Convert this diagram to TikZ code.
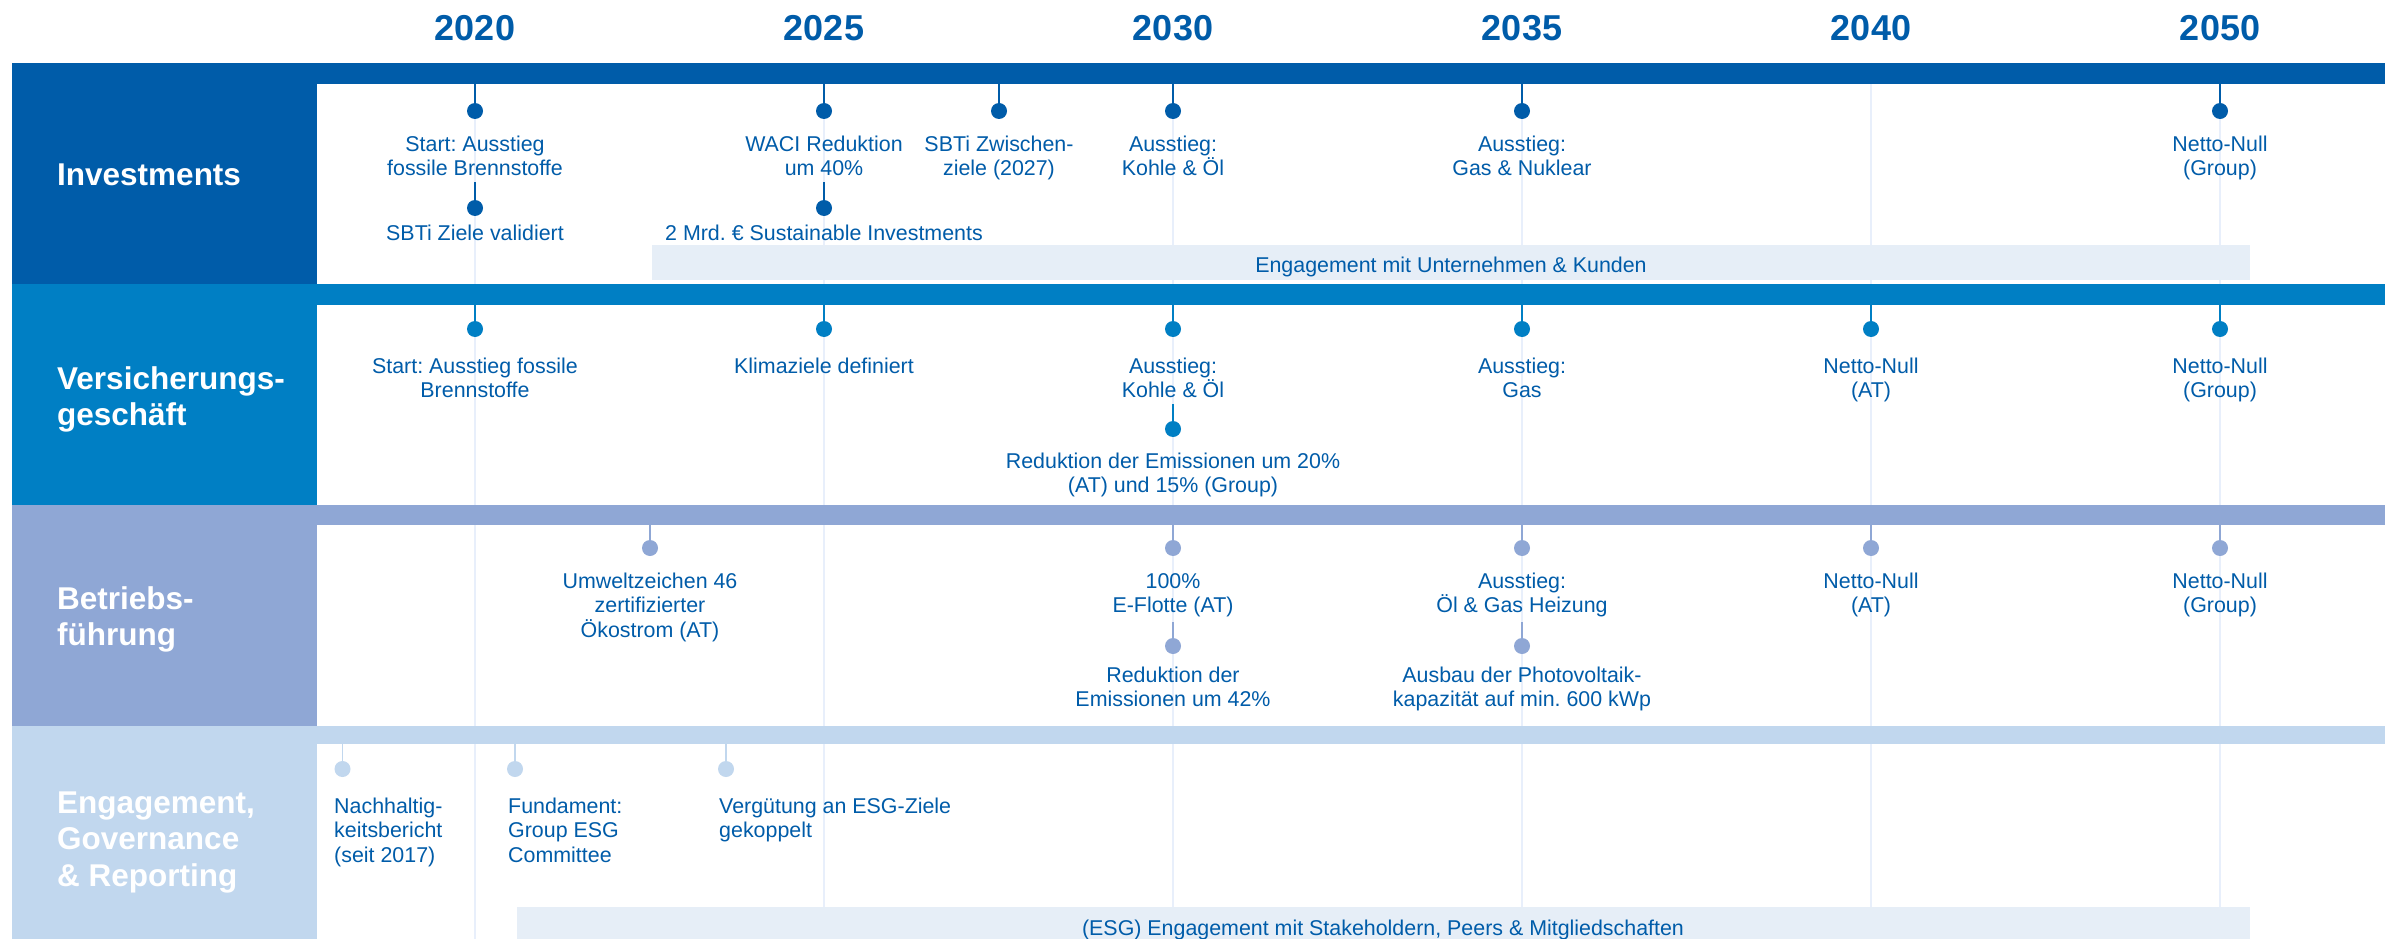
\documentclass[tikz,border=0pt]{standalone}
\usepackage{fontspec}
\setmainfont{Liberation Sans}
\frenchspacing
\definecolor{cA}{RGB}{0,92,169}
\definecolor{cB}{RGB}{0,127,196}
\definecolor{cC}{RGB}{143,167,213}
\definecolor{cD}{RGB}{193,215,238}
\definecolor{cband}{RGB}{230,238,247}
\definecolor{cgrid}{RGB}{232,239,251}
\definecolor{ctext}{RGB}{0,92,169}
\tikzset{
  evt/.style={font=\fontsize{21.4}{24.8}\selectfont, text=ctext, align=center, anchor=base, inner sep=0pt},
  evl/.style={font=\fontsize{21.4}{24.8}\selectfont, text=ctext, align=left, anchor=base west, inner sep=0pt},
  two/.style={yshift=-24.8pt},
  three/.style={yshift=-49.6pt},
  yr/.style={font=\fontsize{36}{40}\selectfont\bfseries, text=cA, anchor=base, inner sep=0pt},
  lab/.style={font=\fontsize{31.5}{36.5}\selectfont\bfseries, text=white, align=left, anchor=base west, inner sep=0pt},
  labtwo/.style={yshift=-36.5pt},
  labthree/.style={yshift=-73pt},
  dotA/.style={circle, fill=cA, minimum size=16pt, inner sep=0pt},
  dotB/.style={circle, fill=cB, minimum size=16pt, inner sep=0pt},
  dotC/.style={circle, fill=cC, minimum size=16pt, inner sep=0pt},
  dotD/.style={circle, fill=cD, minimum size=16pt, inner sep=0pt},
  stemA/.style={draw=cA, line width=1.6pt},
  stemB/.style={draw=cB, line width=1.6pt},
  stemC/.style={draw=cC, line width=1.6pt},
  stemD/.style={draw=cD, line width=1.6pt},
  gridl/.style={draw=cgrid, line width=1.6pt},
  bandtext/.style={font=\fontsize{21.4}{24.8}\selectfont, text=ctext, anchor=base, inner sep=0pt},
}
\begin{document}
\begin{tikzpicture}[x=1pt,y=-1pt]
\useasboundingbox (0,0) rectangle (2385,939);
\fill[white] (0,0) rectangle (2385,939);
% grid lines
\foreach \gx in {475,824,1173,1522,1871,2220} {
  \draw[gridl] (\gx,63) -- (\gx,939);
}
% bands
\fill[cband] (652,245) rectangle (2250,280);
\fill[cband] (517,907) rectangle (2250,939);
\node[bandtext] (band1) at (1451,272) {Engagement mit Unternehmen \& Kunden};
\node[bandtext] (band4) at (1383,935) {(ESG) Engagement mit Stakeholdern, Peers \& Mitgliedschaften};
% row bars and label boxes
\fill[cA] (12,63) rectangle (2385,84);
\fill[cA] (12,63) rectangle (317,284);
\fill[cB] (12,284) rectangle (2385,305);
\fill[cB] (12,284) rectangle (317,505);
\fill[cC] (12,505) rectangle (2385,525);
\fill[cC] (12,505) rectangle (317,726);
\fill[cD] (12,726) rectangle (2385,744);
\fill[cD] (12,726) rectangle (317,939);
% years
\node[yr] (y20) at (475,40.7) {2020};
\node[yr] (y25) at (824,40.7) {2025};
\node[yr] (y30) at (1173,40.7) {2030};
\node[yr] (y35) at (1522,40.7) {2035};
\node[yr] (y40) at (1871,40.7) {2040};
\node[yr] (y50) at (2220,40.7) {2050};
% labels
\node[lab] (l1) at (57,185) {Investments};
\node[lab,labtwo] (l2) at (57,389) {Versicherungs-\\geschäft};
\node[lab,labtwo] (l3) at (57,609) {Betriebs-\\führung};
\node[lab,labthree] (l4) at (57,813) {Engagement,\\Governance\\\& Reporting};
% ---------- Row 1
\foreach \nm/\xx in {a/475,b/824,c/999,d/1173,e/1522,f/2220} {
  \coordinate (r1s\nm) at (\xx,84);
  \node[dotA] (r1d\nm) at (\xx,111) {};
  \draw[stemA] (r1s\nm) -- (r1d\nm);
}
\node[evt,two] (r1ta) at (475,151) {Start: Ausstieg\\fossile Brennstoffe};
\node[evt,two] (r1tb) at (824,151) {WACI Reduktion\\um 40\%};
\node[evt,two] (r1tc) at (999,151) {SBTi Zwischen-\\ziele (2027)};
\node[evt,two] (r1td) at (1173,151) {Ausstieg:\\Kohle \& Öl};
\node[evt,two] (r1te) at (1522,151) {Ausstieg:\\Gas \& Nuklear};
\node[evt,two] (r1tf) at (2220,151) {Netto-Null\\(Group)};
\foreach \nm/\xx in {a/475,b/824} {
  \coordinate (r1u\nm) at (\xx,182);
  \node[dotA] (r1e\nm) at (\xx,208) {};
  \draw[stemA] (r1u\nm) -- (r1e\nm);
}
\node[evt] (r1va) at (475,240) {SBTi Ziele validiert};
\node[evt] (r1vb) at (824,240) {2 Mrd. € Sustainable Investments};
% ---------- Row 2
\foreach \nm/\xx in {a/475,b/824,d/1173,e/1522,g/1871,f/2220} {
  \coordinate (r2s\nm) at (\xx,305);
  \node[dotB] (r2d\nm) at (\xx,329) {};
  \draw[stemB] (r2s\nm) -- (r2d\nm);
}
\node[evt,two] (r2ta) at (475,373) {Start: Ausstieg fossile\\Brennstoffe};
\node[evt] (r2tb) at (824,373) {Klimaziele definiert};
\node[evt,two] (r2td) at (1173,373) {Ausstieg:\\Kohle \& Öl};
\node[evt,two] (r2te) at (1522,373) {Ausstieg:\\Gas};
\node[evt,two] (r2tg) at (1871,373) {Netto-Null\\(AT)};
\node[evt,two] (r2tf) at (2220,373) {Netto-Null\\(Group)};
\coordinate (r2ud) at (1173,404);
\node[dotB] (r2ed) at (1173,429) {};
\draw[stemB] (r2ud) -- (r2ed);
\node[evt,two] (r2vd) at (1173,468) {Reduktion der Emissionen um 20\%\\(AT) und 15\% (Group)};
% ---------- Row 3
\foreach \nm/\xx in {h/650,d/1173,e/1522,g/1871,f/2220} {
  \coordinate (r3s\nm) at (\xx,525);
  \node[dotC] (r3d\nm) at (\xx,548) {};
  \draw[stemC] (r3s\nm) -- (r3d\nm);
}
\node[evt,three] (r3th) at (650,588) {Umweltzeichen 46\\zertifizierter\\Ökostrom (AT)};
\node[evt,two] (r3td) at (1173,588) {100\%\\E-Flotte (AT)};
\node[evt,two] (r3te) at (1522,588) {Ausstieg:\\Öl \& Gas Heizung};
\node[evt,two] (r3tg) at (1871,588) {Netto-Null\\(AT)};
\node[evt,two] (r3tf) at (2220,588) {Netto-Null\\(Group)};
\foreach \nm/\xx in {d/1173,e/1522} {
  \coordinate (r3u\nm) at (\xx,622);
  \node[dotC] (r3e\nm) at (\xx,646) {};
  \draw[stemC] (r3u\nm) -- (r3e\nm);
}
\node[evt,two] (r3vd) at (1173,682) {Reduktion der\\Emissionen um 42\%};
\node[evt,two] (r3ve) at (1522,682) {Ausbau der Photovoltaik-\\kapazität auf min. 600 kWp};
% ---------- Row 4
\foreach \nm/\xx in {a/342.5,b/515,c/726} {
  \coordinate (r4s\nm) at (\xx,744);
  \node[dotD] (r4d\nm) at (\xx,769) {};
  \draw[stemD] (r4s\nm) -- (r4d\nm);
}
\node[evl,three] (r4ta) at (334,813) {Nachhaltig-\\keitsbericht\\(seit 2017)};
\node[evl,three] (r4tb) at (508,813) {Fundament:\\Group ESG\\Committee};
\node[evl,two] (r4tc) at (719,813) {Vergütung an ESG-Ziele\\gekoppelt};
\end{tikzpicture}
\end{document}
